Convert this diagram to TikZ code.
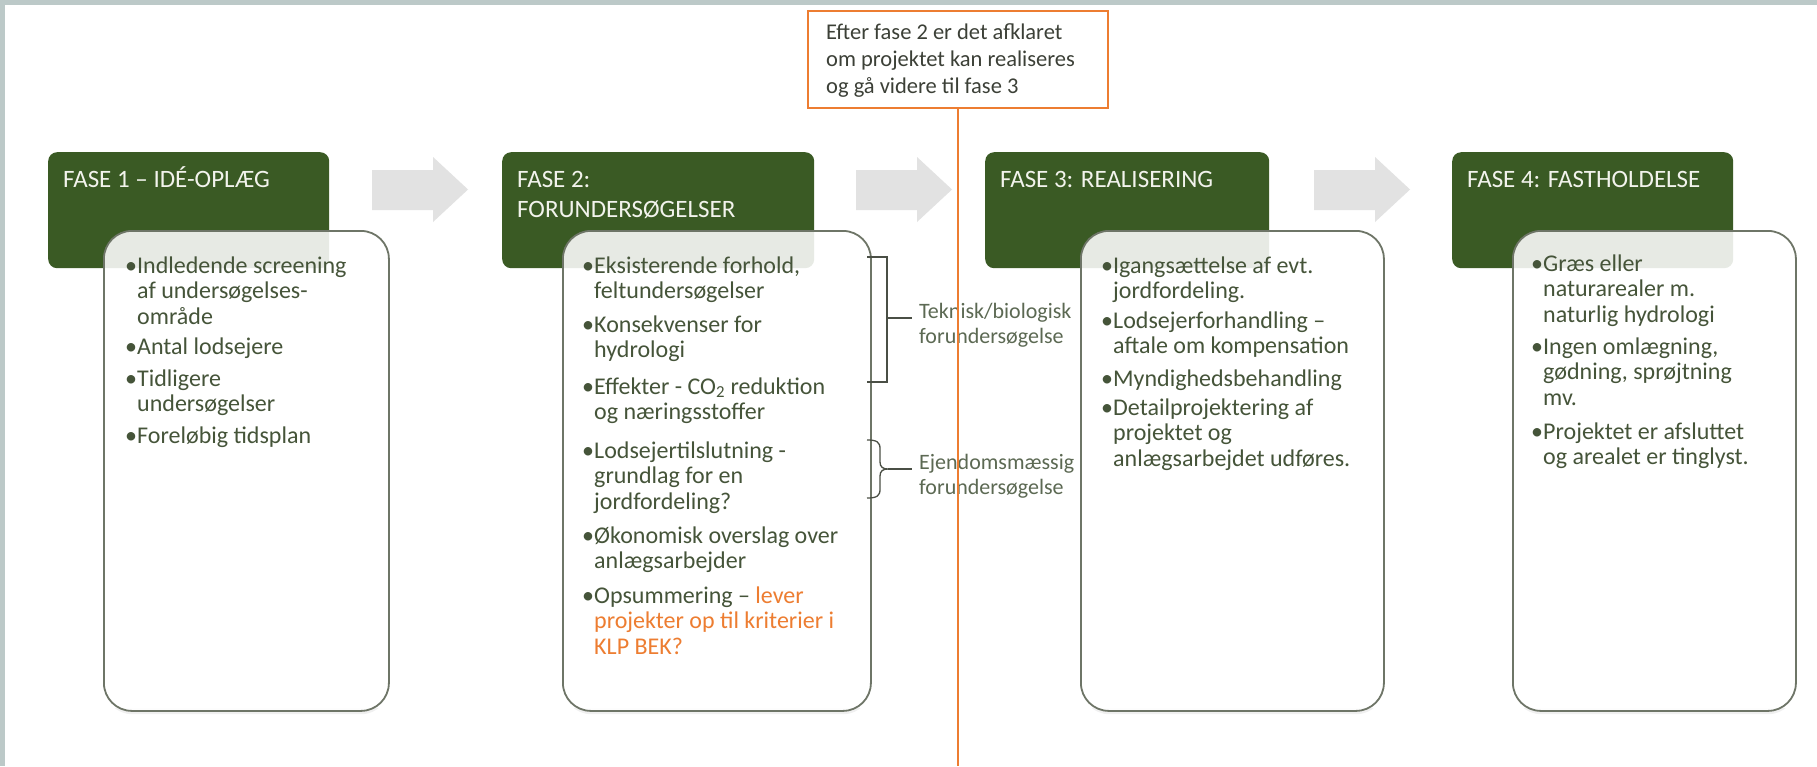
\documentclass[tikz,border=0pt]{standalone}
\usepackage{fontspec}
\setmainfont{Carlito}
\definecolor{framecol}{HTML}{BCC9C8}
\definecolor{dgreen}{HTML}{3A5A24}
\definecolor{arrowgray}{HTML}{E2E2E2}
\definecolor{boxline}{HTML}{6E7567}
\definecolor{bodytext}{HTML}{455439}
\definecolor{hdrtext}{HTML}{F2F3EC}
\definecolor{orng}{HTML}{ED7D31}
\definecolor{lbltext}{HTML}{5C6953}
\definecolor{notetext}{HTML}{3C4037}
\definecolor{brkcol}{HTML}{4A4F45}
\newcommand\bodyfont{\fontsize{24}{25.5}\selectfont}
\newcommand\hdrfont{\fontsize{25}{30}\selectfont}
\newcommand\lblfont{\fontsize{22}{25}\selectfont}
\newcommand\notefont{\fontsize{22.5}{27}\selectfont}
\newcommand\bp[1]{\begin{tabular}[t]{@{}p{7pt}@{}l@{}}\hspace*{-5pt}\textbullet&#1\end{tabular}}
\newcommand\ml[1]{\begin{tabular}[t]{@{}l@{}}#1\end{tabular}}
\newcommand\blkarrow[1]{\fill[arrowgray] (#1,170) -- ++(61,0) -- ++(0,-13) -- ++(35,32.5) -- ++(-35,32.5) -- ++(0,-12) -- ++(-61,0) -- cycle;}
\begin{document}
\begin{tikzpicture}[x=1pt,y=-1pt,
  gbox/.style={fill=dgreen, rounded corners=9pt, inner sep=0pt, anchor=north west},
  wbox/.style={draw=boxline, line width=1.8pt, fill=white, fill opacity=0.88, rounded corners=28pt, inner sep=0pt, anchor=north west},
  shad/.style={fill=black, opacity=0.06, rounded corners=28pt, inner sep=0pt, anchor=north west},
  hdr/.style={anchor=base west, inner sep=0pt, text=hdrtext, font=\hdrfont},
  bodypar/.style={anchor=base west, inner sep=0pt, text=bodytext, font=\bodyfont},
  lbl/.style={anchor=base west, inner sep=0pt, text=lbltext, font=\lblfont},
  notestyle/.style={anchor=base west, inner sep=0pt, text=notetext, font=\notefont},
  brk/.style={draw=brkcol, line width=1.3pt},
  oline/.style={draw=orng, line width=1.6pt}]
\useasboundingbox (0,0) rectangle (1817,766);
\fill[white] (0,0) rectangle (1817,766);
\fill[framecol] (0,0) rectangle (1817,4.5);
\fill[framecol] (0,0) rectangle (4.5,766);
% arrows
\blkarrow{372}
\blkarrow{856}
\blkarrow{1314}
% green header boxes
\node[gbox, minimum width=281pt, minimum height=116pt] (g1) at (48,152) {};
\node[gbox, minimum width=312pt, minimum height=116pt] (g2) at (502,152) {};
\node[gbox, minimum width=284pt, minimum height=116pt] (g3) at (985,152) {};
\node[gbox, minimum width=281pt, minimum height=116pt] (g4) at (1452,152) {};
\node[hdr] (h1) at (63,187) {FASE 1 – IDÉ-OPLÆG};
\node[hdr] (h2) at (517,187) {\ml{FASE 2:\\FORUNDERSØGELSER}};
\node[hdr] (h3) at (1000,187) {FASE 3: REALISERING};
\node[hdr] (h4) at (1467,187) {FASE 4: FASTHOLDELSE};
% faint shadows below the content boxes
\begin{scope}
\clip (0,708) rectangle (1817,766);
\node[shad, minimum width=285pt, minimum height=480pt] (s1) at (104,234) {};
\node[shad, minimum width=308pt, minimum height=480pt] (s2) at (563,234) {};
\node[shad, minimum width=303pt, minimum height=480pt] (s3) at (1081,234) {};
\node[shad, minimum width=283pt, minimum height=480pt] (s4) at (1513,234) {};
\end{scope}
% white content boxes
\node[wbox, minimum width=285pt, minimum height=480pt] (w1) at (103,230) {};
\node[wbox, minimum width=308pt, minimum height=480pt] (w2) at (562,230) {};
\node[wbox, minimum width=303pt, minimum height=480pt] (w3) at (1080,230) {};
\node[wbox, minimum width=283pt, minimum height=480pt] (w4) at (1512,230) {};
% box 1
\node[bodypar] (p11) at (130,273) {\bp{Indledende screening\\&af undersøgelses-\\&område}};
\node[bodypar] (p12) at (130,354) {\bp{Antal lodsejere}};
\node[bodypar] (p13) at (130,386) {\bp{Tidligere\\&undersøgelser}};
\node[bodypar] (p14) at (130,443) {\bp{Foreløbig tidsplan}};
% box 2
\node[bodypar] (p21) at (587,273) {\bp{Eksisterende forhold,\\&feltundersøgelser}};
\node[bodypar] (p22) at (587,332) {\bp{Konsekvenser for\\&hydrologi}};
\node[bodypar] (p23) at (587,394) {\bp{Effekter - CO\textsubscript{2} reduktion\\&og næringsstoffer}};
\node[bodypar] (p24) at (587,458) {\bp{Lodsejertilslutning -\\&grundlag for en\\&jordfordeling?}};
\node[bodypar] (p25) at (587,543) {\bp{Økonomisk overslag over\\&anlægsarbejder}};
\node[bodypar] (p26) at (587,603) {\bp{Opsummering – \textcolor{orng}{lever}\\&\textcolor{orng}{projekter op til kriterier i}\\&\textcolor{orng}{KLP BEK?}}};
% box 3
\node[bodypar] (p31) at (1106,273) {\bp{Igangsættelse af evt.\\&jordfordeling.}};
\node[bodypar] (p32) at (1106,328) {\bp{Lodsejerforhandling –\\&aftale om kompensation}};
\node[bodypar] (p33) at (1106,386) {\bp{Myndighedsbehandling}};
\node[bodypar] (p34) at (1106,415) {\bp{Detailprojektering af\\&projektet og\\&anlægsarbejdet udføres.}};
% box 4
\node[bodypar] (p41) at (1536,271) {\bp{Græs eller\\&naturarealer m.\\&naturlig hydrologi}};
\node[bodypar] (p42) at (1536,354) {\bp{Ingen omlægning,\\&gødning, sprøjtning\\&mv.}};
\node[bodypar] (p43) at (1536,439) {\bp{Projektet er afsluttet\\&og arealet er tinglyst.}};
% brackets
\coordinate (b1t) at (867,257);
\coordinate (b1b) at (867,382);
\coordinate (b1m) at (887,318);
\draw[brk] (b1t) -- (887,257) -- (887,382) -- (b1b);
\node[lbl] (l1) at (919,318) {\ml{Teknisk/biologisk\\forundersøgelse}};
\draw[brk] (b1m) -- (912,318);
\coordinate (b2t) at (867,440);
\coordinate (b2b) at (867,498);
\coordinate (b2m) at (888,469);
\draw[brk] (b2t) .. controls (877,440) and (880,442) .. (880,449) -- (880,462) .. controls (880,467) and (883,469) .. (b2m) .. controls (883,469) and (880,471) .. (880,476) -- (880,489) .. controls (880,496) and (877,498) .. (b2b);
\draw[brk] (b2m) -- (912,469);
\node[lbl] (l2) at (919,469) {\ml{Ejendomsmæssig\\forundersøgelse}};
% orange note and line
\node[draw=orng, line width=1.6pt, fill=white, inner sep=0pt, anchor=north west, minimum width=300pt, minimum height=97pt] (notebox) at (807,10) {};
\node[notestyle] (notetxt) at (826,39) {\ml{Efter fase 2 er det afklaret\\om projektet kan realiseres\\og gå videre til fase 3}};
\coordinate (lineend) at (notebox.south |- 0,766);
\draw[oline] (notebox.south) -- (lineend);
\end{tikzpicture}
\end{document}
